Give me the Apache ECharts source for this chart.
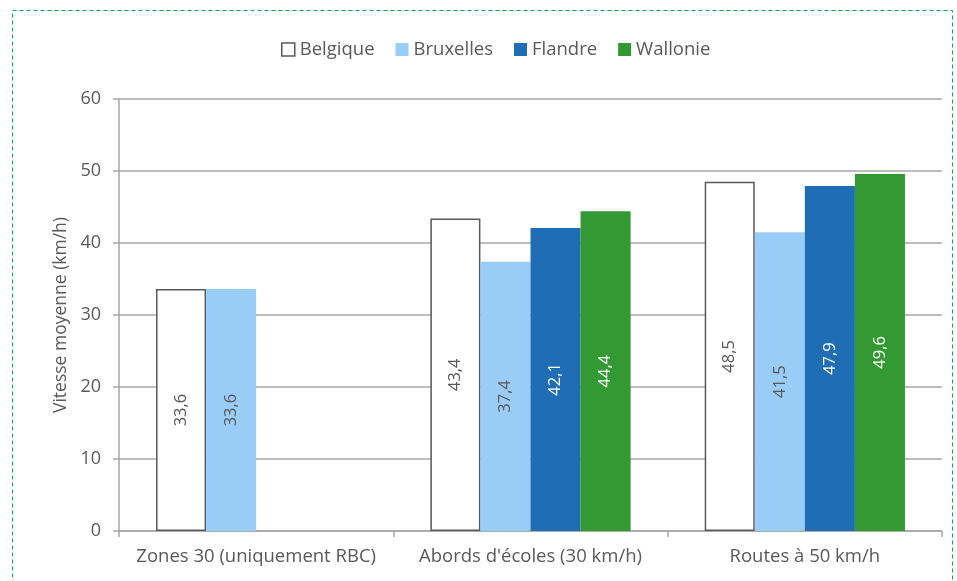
<!DOCTYPE html>
<html><head><meta charset="utf-8">
<script src="https://cdn.jsdelivr.net/npm/echarts@6/dist/echarts.min.js"></script>
<style>html,body{margin:0;padding:0;background:#fff}#c{width:957px;height:581px}</style>
</head><body><div id="c"></div>
<script>
const categories = ['Zones 30 (uniquement RBC)', "Abords d'écoles (30 km/h)", 'Routes à 50 km/h'];
const seriesNames = ['Belgique', 'Bruxelles', 'Flandre', 'Wallonie'];
const belgique = [33.6, 43.4, 48.5];
const bruxelles = [33.6, 37.4, 41.5];
const flandre = [null, 42.1, 47.9];
const wallonie = [null, 44.4, 49.6];
const yTicks = [0, 10, 20, 30, 40, 50, 60];

const FONT = '"Open Sans", sans-serif';
const TXT = '#595959';
const chart = echarts.init(document.getElementById('c'), null, {renderer: 'canvas'});
function lab(color) {
  return {show: true, position: 'inside', rotate: 90, color: color, fontSize: 16.5, fontFamily: FONT,
    formatter: p => p.value == null ? '' : String(p.value.toFixed(1)).replace('.', ',')};
}
const styles = [
  {color: '#ffffff', borderColor: '#595959', borderWidth: 1.5},
  {color: '#99CCF6'},
  {color: '#1F6DB5'},
  {color: '#339933'}
];
const datas = [belgique, bruxelles, flandre, wallonie];
const labColors = [TXT, TXT, '#ffffff', '#ffffff'];
chart.setOption({
  animation: false,
  backgroundColor: '#fff',
  textStyle: {fontFamily: FONT},
  graphic: [{type: 'rect', shape: {x: 12.5, y: 10.5, width: 940, height: 600},
    style: {fill: 'none', stroke: '#00B050', lineWidth: 1, lineDash: [4, 3]}, z: 100}],
  legend: {
    top: 35, left: 276, itemWidth: 13, itemHeight: 13, itemGap: 21,
    textStyle: {color: TXT, fontSize: 18.5, fontFamily: FONT},
    data: seriesNames.map((n, i) => ({name: n, icon: 'rect',
      itemStyle: i === 0 ? {color: '#fff', borderColor: '#595959', borderWidth: 1.5} : {}}))
  },
  grid: {left: 119, right: 15, top: 99, bottom: 50},
  xAxis: {
    type: 'category', data: categories,
    axisLine: {lineStyle: {color: '#A6A6A6', width: 1.5}},
    axisTick: {show: true, length: 6, interval: 0, lineStyle: {color: '#A6A6A6', width: 1.5}},
    axisLabel: {color: TXT, fontSize: 18.5, fontFamily: FONT, margin: 16, interval: 0, hideOverlap: false}
  },
  yAxis: {
    type: 'value', min: 0, max: 60, interval: 10,
    name: 'Vitesse moyenne (km/h)', nameLocation: 'middle', nameGap: 48, nameRotate: 90,
    nameTextStyle: {color: TXT, fontSize: 17.5, fontFamily: FONT},
    axisLine: {show: true, lineStyle: {color: '#A6A6A6', width: 1.5}},
    axisTick: {show: true, length: 6, lineStyle: {color: '#A6A6A6', width: 1.5}},
    axisLabel: {color: TXT, fontSize: 18, fontFamily: FONT, margin: 18,
      formatter: v => yTicks.includes(v) ? String(v) : ''},
    splitLine: {lineStyle: {color: '#A6A6A6', width: 1.5}}
  },
  series: seriesNames.map((n, i) => ({
    name: n, type: 'bar', data: datas[i], barGap: '0%', barCategoryGap: '27%',
    itemStyle: styles[i], label: lab(labColors[i])
  }))
});
</script></body></html>
